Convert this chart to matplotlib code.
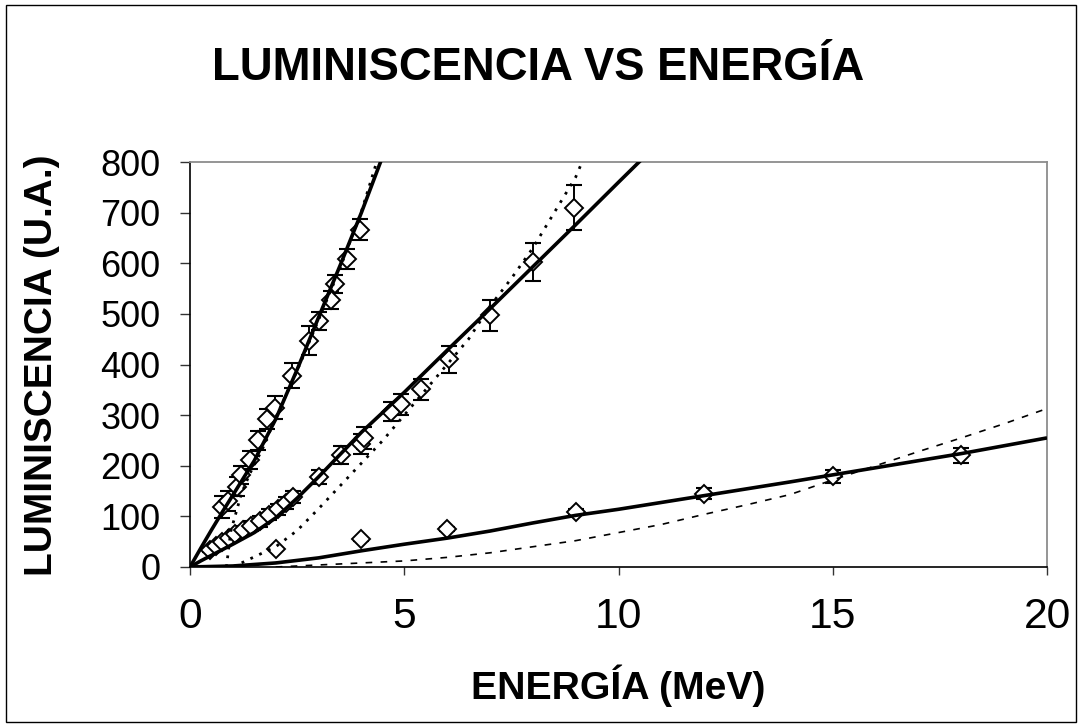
import matplotlib
matplotlib.use("Agg")
import matplotlib.pyplot as plt
from matplotlib import font_manager as fm
from matplotlib.patches import Rectangle

# ---------------- data ----------------
# series 1 (steep)
x1 = [0.75, 0.88, 1.09, 1.19, 1.40, 1.58, 1.79, 1.98, 2.37, 2.78, 3.01, 3.29, 3.38, 3.67, 3.97]
y1 = [119, 130, 159, 182, 211, 250, 292, 315, 378, 447, 486, 527, 559, 608, 666]
e1 = [22, 20, 18, 18, 18, 18, 20, 22, 24, 29, 18, 18, 18, 20, 21]

# series 2 (middle)
x2 = [0.47, 0.60, 0.74, 0.92, 1.05, 1.24, 1.42, 1.63, 1.84, 2.05, 2.23, 2.41,
      3.02, 3.52, 3.98, 4.05, 4.68, 4.92, 5.39, 6.04, 7.0, 8.0, 8.96]
y2 = [34, 41, 50, 57, 65, 73, 81, 90, 103, 114, 126, 139,
      178, 221, 243, 255, 307, 321, 351, 410, 497, 602, 710]
e2 = [4, 5, 6, 7, 8, 8, 9, 10, 11, 11, 12, 12,
      14, 18, 20, 21, 19, 20, 21, 26, 31, 38, 45]

# series 3 (low)
x3 = [2.0, 3.98, 6.0, 9.0, 12.0, 15.0, 18.0]
y3 = [36, 55, 75, 108, 145, 179, 221]
e3 = [2, 3, 4, 6, 11, 13, 15]

# fitted curves
fit1_x = [0, 0.25, 0.5, 0.75, 1.0, 1.5, 2.0, 2.5, 3.0, 3.5, 4.0, 4.5]
fit1_y = [0, 37, 73, 108, 142, 210, 292, 390, 493, 595, 700, 812]
mod1_x = [0.85, 0.95, 1.05, 1.2, 1.4, 1.7, 2.0, 2.5, 3.0, 3.5, 4.0, 4.4]
mod1_y = [0, 70, 100, 145, 185, 235, 295, 388, 488, 590, 702, 812]

fit2_x = [0, 0.25, 0.5, 1, 1.5, 2, 2.5, 3, 3.5, 4, 5, 6, 7, 8, 9, 10, 10.6]
fit2_y = [0, 12, 23, 45, 68, 97, 136, 178, 222, 266, 345, 428, 510, 593, 676, 760, 810]
mod2_x = [1.0, 1.5, 2.0, 2.5, 3.0, 3.5, 4.0, 4.5, 5.0, 5.5, 6.0, 6.5, 7.0, 7.5, 8.0, 8.5, 9.0, 9.2]
mod2_y = [0, 20, 40, 72, 115, 160, 205, 250, 300, 350, 400, 450, 515, 570, 630, 700, 770, 810]

fit3_x = [0, 1, 2, 3, 4, 5, 6, 7, 8, 9, 10, 12, 14, 16, 18, 20]
fit3_y = [0, 2, 8, 18, 32, 45, 57, 71, 87, 102, 114, 141, 168, 196, 224, 255]
mod3_x = [2, 3, 4, 5, 6, 7, 8, 9, 10, 11, 12, 13, 14, 15, 16, 17, 18, 19, 19.9]
mod3_y = [0, 4, 8, 12, 19, 28, 40, 52, 68, 84, 104, 123, 143, 172, 200, 228, 255, 283, 310]

x_ticks = [0, 5, 10, 15, 20]
y_ticks = [0, 100, 200, 300, 400, 500, 600, 700, 800]

TITLE = "LUMINISCENCIA VS ENERGÍA"
XLABEL = "ENERGÍA (MeV)"
YLABEL = "LUMINISCENCIA (U.A.)"

# ---------------- fonts ----------------
names = {f.name for f in fm.fontManager.ttflist}
if "Liberation Sans Narrow" in names:
    NARROW = "Liberation Sans Narrow"
    nf = 1.0
else:
    NARROW = "Liberation Sans"
    nf = 0.83
REG = "Liberation Sans"

W, H = 1081, 726
fig = plt.figure(figsize=(W / 100, H / 100), dpi=100)
fig.patch.set_facecolor("white")

L, R, B, T = 190, 1047, 567, 162
ax = fig.add_axes([L / W, 1 - B / H, (R - L) / W, (B - T) / H])
ax.set_xlim(0, 20)
ax.set_ylim(0, 800)

# figure border
fig.patches.append(Rectangle((6 / W, 4 / H), (1076 - 6) / W, (721 - 4) / H,
                             transform=fig.transFigure, fill=False,
                             edgecolor="black", linewidth=1.0))

# spines
for s in ["top", "right"]:
    ax.spines[s].set_color("#8c8c8c")
    ax.spines[s].set_linewidth(1.3)
for s in ["left", "bottom"]:
    ax.spines[s].set_color("black")
    ax.spines[s].set_linewidth(1.2)

ax.set_xticks(x_ticks)
ax.set_yticks(y_ticks)
ax.set_xticklabels([str(v) for v in x_ticks], fontfamily=NARROW, fontsize=37 * nf)
ax.set_yticklabels([str(v) for v in y_ticks], fontfamily=REG, fontsize=26)
ax.tick_params(axis="y", direction="out", length=7.2, width=1.0, color="#333333", pad=14)
ax.tick_params(axis="x", direction="out", length=5.8, width=1.0, color="#333333", pad=16)

# error bars + markers
for xs, ys, es in [(x1, y1, e1), (x2, y2, e2), (x3, y3, e3)]:
    ax.errorbar(xs, ys, yerr=es, fmt="none", ecolor="black", elinewidth=1.4,
                capsize=6, capthick=1.5, zorder=2)
    ax.plot(xs, ys, linestyle="none", marker="D", markersize=9.5,
            markerfacecolor="white", markeredgecolor="black",
            markeredgewidth=1.4, zorder=3)

# fit lines (solid)
for fx, fy in [(fit1_x, fit1_y), (fit2_x, fit2_y), (fit3_x, fit3_y)]:
    ax.plot(fx, fy, color="black", linewidth=2.6, solid_capstyle="butt",
            solid_joinstyle="round", zorder=4)

# model lines (dotted / dashed)
ax.plot(mod1_x, mod1_y, color="black", linewidth=2.0, linestyle=(0, (1, 2.2)), zorder=4)
ax.plot(mod2_x, mod2_y, color="black", linewidth=2.0, linestyle=(0, (1, 2.5)), zorder=4)
ax.plot(mod3_x, mod3_y, color="black", linewidth=1.2, linestyle=(0, (4, 5)), zorder=4)

# texts
fig.text(538 / W, 1 - 68 / H, TITLE, ha="center", va="center",
         fontfamily=NARROW, fontweight="bold", fontsize=39.5 * nf)
fig.text(618 / W, 1 - 686 / H, XLABEL, ha="center", va="center",
         fontfamily=NARROW, fontweight="bold", fontsize=34 * nf)
fig.text(42 / W, 1 - 365 / H, YLABEL, ha="center", va="center", rotation=90,
         fontfamily=REG, fontweight="bold", fontsize=28)

fig.savefig("out.png", dpi=100, facecolor="white")
